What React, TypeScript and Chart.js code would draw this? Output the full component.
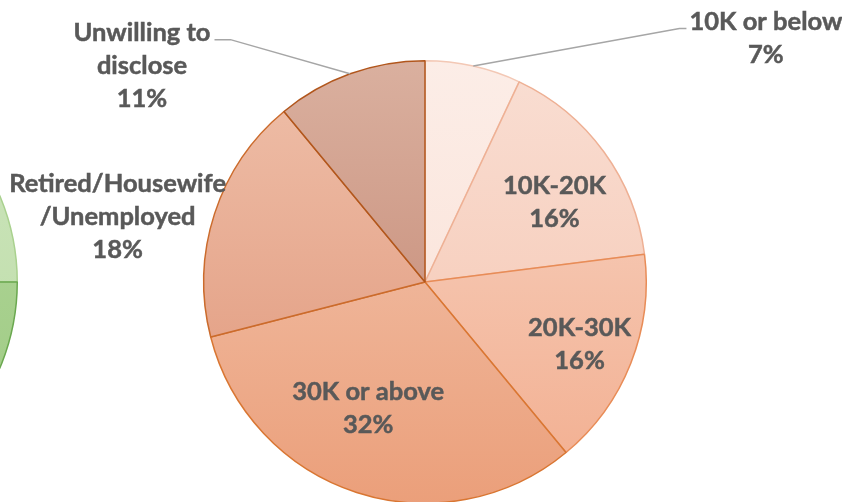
import React, { useEffect, useRef } from "react";
import { Chart, registerables } from "chart.js";

Chart.register(...registerables);

// ---- Data ----
const categories = [
  "10K or below",
  "10K-20K",
  "20K-30K",
  "30K or above",
  "Retired/Housewife/Unemployed",
  "Unwilling to disclose",
];
const labelLines = [
  ["10K or below"],
  ["10K-20K"],
  ["20K-30K"],
  ["30K or above"],
  ["Retired/Housewife", "/Unemployed"],
  ["Unwilling to", "disclose"],
];
const shares = [7, 16, 16, 32, 18, 11];

// neighbouring (cropped) pie at the left edge
const neighborCategories = ["Group A", "Group B"];
const neighborShares = [25, 75];

// ---- Styles ----
const fillTop = ["#fcede7", "#f9ded3", "#f8d6c6", "#f3cab6", "#efc0aa", "#dab09f"];
const fillBottom = ["#fadfd3", "#f5c3ad", "#f2ad8e", "#eb9f7a", "#df9477", "#c0806b"];
const borderColors = ["#f3c8b5", "#eeb094", "#e88c57", "#d97632", "#cb6b2c", "#b1561c"];

const neighborTop = ["#cde5bd", "#b4d89c"];
const neighborBottom = ["#bcdca6", "#9cc981"];
const neighborBorders = ["#a9d18e", "#6aa84f"];

// label placement relative to slice middle (radius factor, angle offset in degrees)
const labelLayout = [
  { r: 1.895, dAngle: 41.8, leader: "left" },
  { r: 0.687, dAngle: 4.4, leader: "" },
  { r: 0.754, dAngle: 0.5, leader: "" },
  { r: 0.627, dAngle: 6.2, leader: "" },
  { r: 1.42, dAngle: -6.1, leader: "" },
  { r: 1.61, dAngle: -32.8, leader: "right" },
];

const FONT = "bold 25.5px Lato, 'Open Sans', sans-serif";
const LINE_H = 33;

function gradientFill(tops: string[], bottoms: string[]) {
  return (ctx: any) => {
    const chart = ctx.chart;
    const area = chart.chartArea;
    const i = ctx.dataIndex;
    if (!area) return tops[i];
    const g = chart.ctx.createLinearGradient(0, area.top, 0, area.bottom);
    g.addColorStop(0, tops[i]);
    g.addColorStop(1, bottoms[i]);
    return g;
  };
}

const labelPlugin = {
  id: "sliceLabels",
  afterDatasetsDraw(chart: any) {
    const meta = chart.getDatasetMeta(0);
    const c = chart.ctx as CanvasRenderingContext2D;
    meta.data.forEach((arc: any, i: number) => {
      const { x, y, startAngle, endAngle, outerRadius } = arc.getProps(
        ["x", "y", "startAngle", "endAngle", "outerRadius"],
        true
      );
      const mid = (startAngle + endAngle) / 2;
      const lay = labelLayout[i];
      const a = mid + (lay.dAngle * Math.PI) / 180;
      const lx = x + Math.cos(a) * outerRadius * lay.r;
      const ly = y + Math.sin(a) * outerRadius * lay.r;
      const lines = [...labelLines[i], shares[i] + "%"];
      c.save();
      c.font = FONT;
      c.fillStyle = "#595959";
      c.strokeStyle = "#595959";
      c.lineWidth = 0.5;
      c.textAlign = "center";
      c.textBaseline = "middle";
      const y0 = ly - ((lines.length - 1) * LINE_H) / 2;
      lines.forEach((t, k) => {
        c.fillText(t, lx, y0 + k * LINE_H);
        c.strokeText(t, lx, y0 + k * LINE_H);
      });
      if (lay.leader) {
        const ex = x + Math.cos(mid) * outerRadius;
        const ey = y + Math.sin(mid) * outerRadius;
        const w = c.measureText(lines[0]).width;
        const hy = y0 + 7;
        let tx: number, kx: number;
        if (lay.leader === "left") {
          tx = lx - w / 2 - 3;
          kx = tx - 7;
        } else {
          tx = lx + w / 2 + 4;
          kx = tx + 16;
        }
        c.strokeStyle = "#a6a6a6";
        c.lineWidth = 1.5;
        c.beginPath();
        c.moveTo(ex, ey);
        c.lineTo(kx, hy);
        c.lineTo(tx, hy);
        c.stroke();
      }
      c.restore();
    });
  },
};

export default function App() {
  const mainRef = useRef<HTMLCanvasElement>(null);
  const sideRef = useRef<HTMLCanvasElement>(null);

  useEffect(() => {
    document.body.style.margin = "0";
    const main = new Chart(mainRef.current as HTMLCanvasElement, {
      type: "pie",
      data: {
        labels: categories,
        datasets: [
          {
            data: shares,
            backgroundColor: gradientFill(fillTop, fillBottom) as any,
            borderColor: borderColors,
            borderWidth: 1.5,
          },
        ],
      },
      options: {
        responsive: false,
        maintainAspectRatio: false,
        animation: false,
        layout: { padding: { top: 60, bottom: 6, left: 8, right: 0 } },
        plugins: { legend: { display: false }, tooltip: { enabled: false } },
      },
      plugins: [labelPlugin],
    });
    const side = new Chart(sideRef.current as HTMLCanvasElement, {
      type: "pie",
      data: {
        labels: neighborCategories,
        datasets: [
          {
            data: neighborShares,
            backgroundColor: gradientFill(neighborTop, neighborBottom) as any,
            borderColor: neighborBorders,
            borderWidth: 1.5,
          },
        ],
      },
      options: {
        responsive: false,
        maintainAspectRatio: false,
        animation: false,
        layout: { padding: { top: 60, bottom: 6, left: 0, right: 0 } },
        plugins: { legend: { display: false }, tooltip: { enabled: false } },
      },
    });
    return () => {
      main.destroy();
      side.destroy();
    };
  }, []);

  return (
    <div
      style={{
        position: "absolute",
        left: 0,
        top: 0,
        width: 842,
        height: 502,
        overflow: "hidden",
        background: "#ffffff",
      }}
    >
      <canvas
        ref={sideRef}
        width={444}
        height={510}
        style={{ position: "absolute", left: -426, top: 0, display: "block" }}
      />
      <canvas
        ref={mainRef}
        width={842}
        height={510}
        style={{ position: "absolute", left: 0, top: 0, display: "block" }}
      />
    </div>
  );
}
